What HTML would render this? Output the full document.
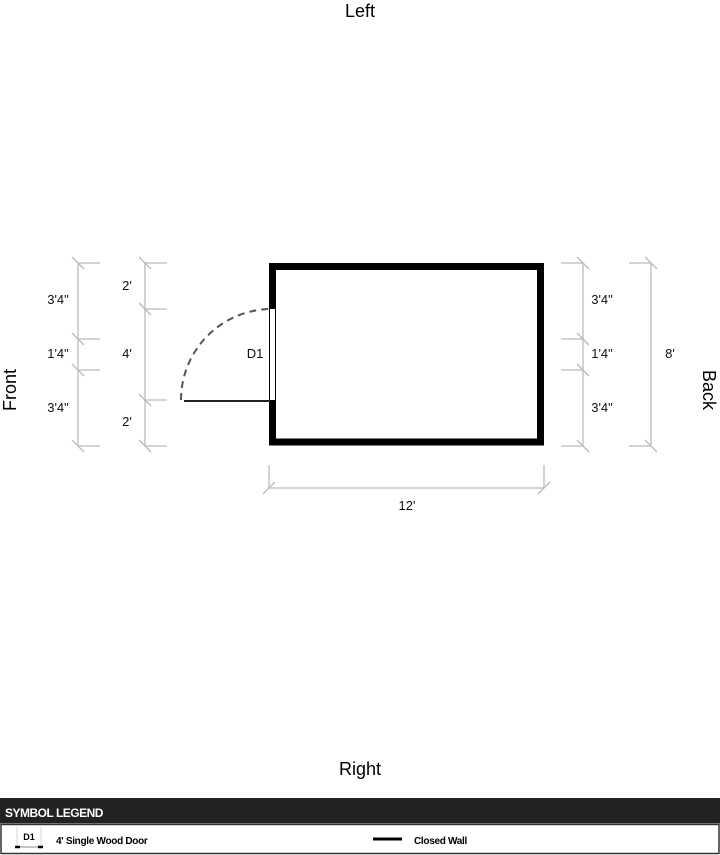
<!DOCTYPE html>
<html><head><style>
body{margin:0;width:720px;height:855px;background:#fff;overflow:hidden;position:relative;font-family:"Liberation Sans",Arial,sans-serif}
</style></head><body>
<svg width="720" height="855" style="position:absolute;left:0;top:0" font-family="Liberation Sans, Arial, sans-serif">
<text x="360" y="17" font-size="18" text-anchor="middle">Left</text>
<text x="360" y="775" font-size="18" text-anchor="middle">Right</text>
<text transform="translate(16,390) rotate(-90)" font-size="18" text-anchor="middle">Front</text>
<text transform="translate(703,390) rotate(90)" font-size="18" text-anchor="middle">Back</text>
<g stroke="#bbb" stroke-width="1.3" fill="none">
<!-- col1 -->
<line x1="78" y1="263" x2="78" y2="446"/>
<line x1="78" y1="263" x2="100" y2="263"/><line x1="78" y1="339" x2="100" y2="339"/><line x1="78" y1="370" x2="100" y2="370"/><line x1="78" y1="446" x2="100" y2="446"/>
<line x1="72" y1="257" x2="84" y2="269"/><line x1="72" y1="333" x2="84" y2="345"/><line x1="72" y1="364" x2="84" y2="376"/><line x1="72" y1="440" x2="84" y2="452"/>
<!-- col2 -->
<line x1="145" y1="263" x2="145" y2="446"/>
<line x1="145" y1="263" x2="167" y2="263"/><line x1="145" y1="309" x2="167" y2="309"/><line x1="145" y1="400" x2="167" y2="400"/><line x1="145" y1="446" x2="167" y2="446"/>
<line x1="139" y1="257" x2="151" y2="269"/><line x1="139" y1="303" x2="151" y2="315"/><line x1="139" y1="394" x2="151" y2="406"/><line x1="139" y1="440" x2="151" y2="452"/>
<!-- col3 -->
<line x1="583" y1="263" x2="583" y2="446"/>
<line x1="561" y1="263" x2="583" y2="263"/><line x1="561" y1="339" x2="583" y2="339"/><line x1="561" y1="370" x2="583" y2="370"/><line x1="561" y1="446" x2="583" y2="446"/>
<line x1="577" y1="257" x2="589" y2="269"/><line x1="577" y1="333" x2="589" y2="345"/><line x1="577" y1="364" x2="589" y2="376"/><line x1="577" y1="440" x2="589" y2="452"/>
<!-- col4 -->
<line x1="651" y1="263" x2="651" y2="446"/>
<line x1="629" y1="263" x2="651" y2="263"/><line x1="629" y1="446" x2="651" y2="446"/>
<line x1="645" y1="257" x2="657" y2="269"/><line x1="645" y1="440" x2="657" y2="452"/>
<!-- bottom -->
<line x1="269" y1="488" x2="544" y2="488"/>
<line x1="269" y1="465" x2="269" y2="488"/><line x1="544" y1="465" x2="544" y2="488"/>
<line x1="263" y1="494" x2="275" y2="482"/><line x1="538" y1="494" x2="550" y2="482"/>
</g>
<g font-size="13" fill="#111" text-anchor="middle">
<text x="58" y="304">3'4"</text><text x="58" y="358">1'4"</text><text x="58" y="412">3'4"</text>
<text x="127" y="290">2'</text><text x="127" y="358">4'</text><text x="127" y="426">2'</text>
<text x="602" y="304">3'4"</text><text x="602" y="358">1'4"</text><text x="602" y="412">3'4"</text>
<text x="670" y="358">8'</text>
<text x="407" y="510">12'</text>
<text x="255" y="358">D1</text>
</g>
<rect x="272.5" y="266.5" width="268" height="175.5" fill="none" stroke="#000" stroke-width="7"/>
<rect x="269.5" y="308.5" width="6" height="92" fill="#fff" stroke="#000" stroke-width="1"/>
<path d="M181,400 A91,91 0 0 1 270,309" fill="none" stroke="#555" stroke-width="2" stroke-dasharray="7,5"/>
<line x1="184" y1="401" x2="270" y2="401" stroke="#222" stroke-width="2"/>
<!-- legend -->
<rect x="0" y="798" width="720" height="25" fill="#222"/>
<line x1="0" y1="823.5" x2="720" y2="823.5" stroke="#888" stroke-width="1"/>
<rect x="1" y="824.5" width="718" height="29" fill="#fff" stroke="#333" stroke-width="1.5"/>
<text x="5" y="817" font-size="12" font-weight="bold" fill="#fff" letter-spacing="-0.5">SYMBOL LEGEND</text>
<text x="29" y="840" font-size="9" font-weight="bold" text-anchor="middle">D1</text>
<line x1="17" y1="827" x2="17" y2="847" stroke="#ccc" stroke-width="0.8"/><line x1="41" y1="827" x2="41" y2="847" stroke="#ccc" stroke-width="0.8"/>
<line x1="15" y1="847" x2="20" y2="847" stroke="#000" stroke-width="2.5"/><line x1="38" y1="847" x2="43" y2="847" stroke="#000" stroke-width="2.5"/>
<line x1="20" y1="847" x2="38" y2="847" stroke="#666" stroke-width="0.8"/>
<text x="56" y="844" font-size="10" font-weight="bold" letter-spacing="-0.3">4' Single Wood Door</text>
<line x1="373" y1="839" x2="402" y2="839" stroke="#000" stroke-width="3"/>
<text x="414" y="844" font-size="10" font-weight="bold" letter-spacing="-0.3">Closed Wall</text>
</svg>
</body></html>
